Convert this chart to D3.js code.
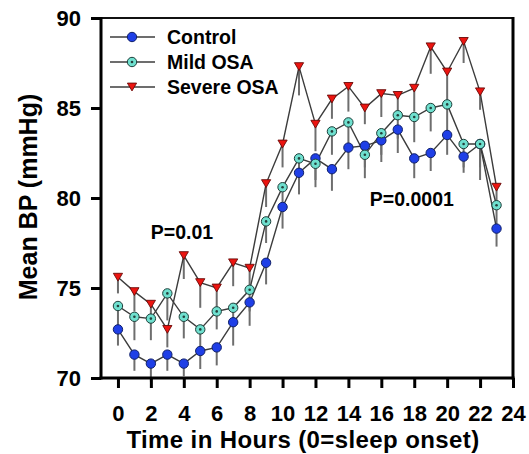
<!DOCTYPE html>
<html><head><meta charset="utf-8">
<script src="https://cdn.jsdelivr.net/npm/d3@7"></script>
<style>
html,body{margin:0;padding:0;background:#fff;}
svg text{font-family:Arial,"Liberation Sans",sans-serif;font-weight:bold;fill:#000;}
</style></head>
<body>
<svg id="chart" width="529" height="454"></svg>
<script>
const hours = d3.range(0, 24);
const control = [72.7, 71.3, 70.8, 71.3, 70.8, 71.5, 71.7, 73.1, 74.2, 76.4, 79.5, 81.4, 82.2, 81.6, 82.8, 82.9, 83.2, 83.8, 82.2, 82.5, 83.5, 82.3, 83.0, 78.3];
const mild    = [74.0, 73.4, 73.3, 74.7, 73.4, 72.7, 73.7, 73.9, 74.9, 78.7, 80.6, 82.2, 81.9, 83.7, 84.2, 82.4, 83.6, 84.6, 84.5, 85.0, 85.2, 83.0, 83.0, 79.6];
const severe  = [75.6, 74.8, 74.1, 72.7, 76.8, 75.3, 75.0, 76.4, 76.1, 80.8, 83.0, 87.3, 84.1, 85.5, 86.2, 85.0, 85.8, 85.7, 86.1, 88.4, 87.0, 88.7, 85.9, 80.6];
const controlErr = [0.9, 0.9, 1.0, 0.9, 0.7, 1.0, 1.0, 1.3, 1.3, 1.2, 1.2, 1.2, 1.2, 1.2, 1.2, 1.2, 1.2, 1.3, 1.1, 1.0, 1.1, 0.9, 1.3, 1.0];
const mildErr    = [1.2, 1.3, 1.2, 1.5, 1.2, 1.1, 1.0, 1.0, 1.2, 1.2, 1.3, 1.3, 1.3, 1.3, 1.3, 1.3, 1.2, 1.3, 1.4, 1.3, 1.7, 1.3, 2.0, 1.2];
const severeErr  = [0.9, 1.1, 1.0, 1.0, 1.3, 1.4, 1.3, 1.3, 1.2, 1.3, 1.3, 1.6, 1.5, 1.1, 1.4, 0.9, 1.3, 1.2, 1.3, 1.5, 1.9, 1.2, 1.0, 1.2];
const seriesNames = ["Control", "Mild OSA", "Severe OSA"];
const xTicks = d3.range(0, 25, 2);
const yTicks = [70, 75, 80, 85, 90];
const annotations = [{text: "P=0.01", h: 2.0, v: 77.7}, {text: "P=0.0001", h: 15.3, v: 79.55}];

const svg = d3.select("#chart");
const x = d3.scaleLinear().domain([-1.03, 24]).range([101, 513]);
const y = d3.scaleLinear().domain([70, 90]).range([378, 18]);

const series = [
  {name: seriesNames[0], vals: control, err: controlErr, type: "circle", fill: "#1f3fe6", stroke: "#10206a"},
  {name: seriesNames[1], vals: mild, err: mildErr, type: "dot", fill: "#6fe0cf", stroke: "#1d3f3a"},
  {name: seriesNames[2], vals: severe, err: severeErr, type: "tri", fill: "#ec1410", stroke: "#6a0a08"}
];

function marker(g, type, fill, stroke) {
  if (type === "tri") {
    g.append("path").attr("d", "M-4.6,-3.9L4.6,-3.9L0,3.9Z")
      .attr("fill", fill).attr("stroke", stroke).attr("stroke-width", 0.9);
  } else {
    g.append("circle").attr("r", 4.7).attr("fill", fill).attr("stroke", stroke).attr("stroke-width", 1);
    if (type === "dot") g.append("circle").attr("r", 1.3).attr("fill", "#24403c");
  }
}

// error bars (lower)
series.forEach(s => {
  svg.append("g").selectAll("line").data(hours).join("line")
    .attr("x1", h => x(h)).attr("x2", h => x(h))
    .attr("y1", h => y(s.vals[h])).attr("y2", h => y(s.vals[h] - s.err[h]))
    .attr("stroke", "#6e6e6e").attr("stroke-width", 2);
});
// lines
const line = d3.line().x((d, i) => x(i)).y(d => y(d));
series.forEach(s => {
  svg.append("path").datum(s.vals).attr("d", line)
    .attr("fill", "none").attr("stroke", "#3c3c3c").attr("stroke-width", 1.4);
});
// markers
series.forEach(s => {
  svg.append("g").selectAll("g").data(hours).join("g")
    .attr("transform", h => `translate(${x(h)},${y(s.vals[h])})`)
    .each(function () { marker(d3.select(this), s.type, s.fill, s.stroke); });
});

// frame
svg.append("line").attr("x1", 101).attr("x2", 513).attr("y1", 18).attr("y2", 18).attr("stroke", "#111").attr("stroke-width", 2.2);
svg.append("line").attr("x1", 513).attr("x2", 513).attr("y1", 17).attr("y2", 379.5).attr("stroke", "#000").attr("stroke-width", 3);

// axes
const yAxis = svg.append("g").attr("transform", "translate(101,0)")
  .call(d3.axisLeft(y).tickValues(yTicks).tickSize(10).tickSizeOuter(0).tickPadding(10));
const xAxis = svg.append("g").attr("transform", "translate(0,378)")
  .call(d3.axisBottom(x).tickValues(xTicks).tickSize(10).tickSizeOuter(0).tickPadding(17));
[yAxis, xAxis].forEach(a => {
  a.select(".domain").attr("stroke", "#000").attr("stroke-width", 3);
  a.selectAll(".tick line").attr("stroke", "#000").attr("stroke-width", 3);
  a.selectAll(".tick text").style("font-size", "22px").attr("fill", "#000");
});
xAxis.select(".domain").attr("d", "M99.5,0H514.5");
yAxis.select(".domain").attr("d", "M0,17V379.5");

// axis titles
svg.append("text").attr("x", 303).attr("y", 447.5).attr("text-anchor", "middle")
  .style("font-size", "24px").style("letter-spacing", "0.4px").text("Time in Hours (0=sleep onset)");
svg.append("text").attr("transform", "translate(37,197) rotate(-90)").attr("text-anchor", "middle")
  .style("font-size", "25px").text("Mean BP (mmHg)");

// legend
series.forEach((s, i) => {
  const ly = 37 + i * 25;
  const g = svg.append("g");
  g.append("line").attr("x1", 110).attr("x2", 155).attr("y1", ly).attr("y2", ly).attr("stroke", "#3c3c3c").attr("stroke-width", 1.4);
  marker(g.append("g").attr("transform", `translate(132,${ly})`), s.type, s.fill, s.stroke);
  g.append("text").attr("x", 167).attr("y", ly + 7).style("font-size", "19.5px").text(s.name);
});

// annotations
annotations.forEach(a => {
  svg.append("text").attr("x", x(a.h)).attr("y", y(a.v)).style("font-size", "19.5px").text(a.text);
});
</script>
</body></html>
